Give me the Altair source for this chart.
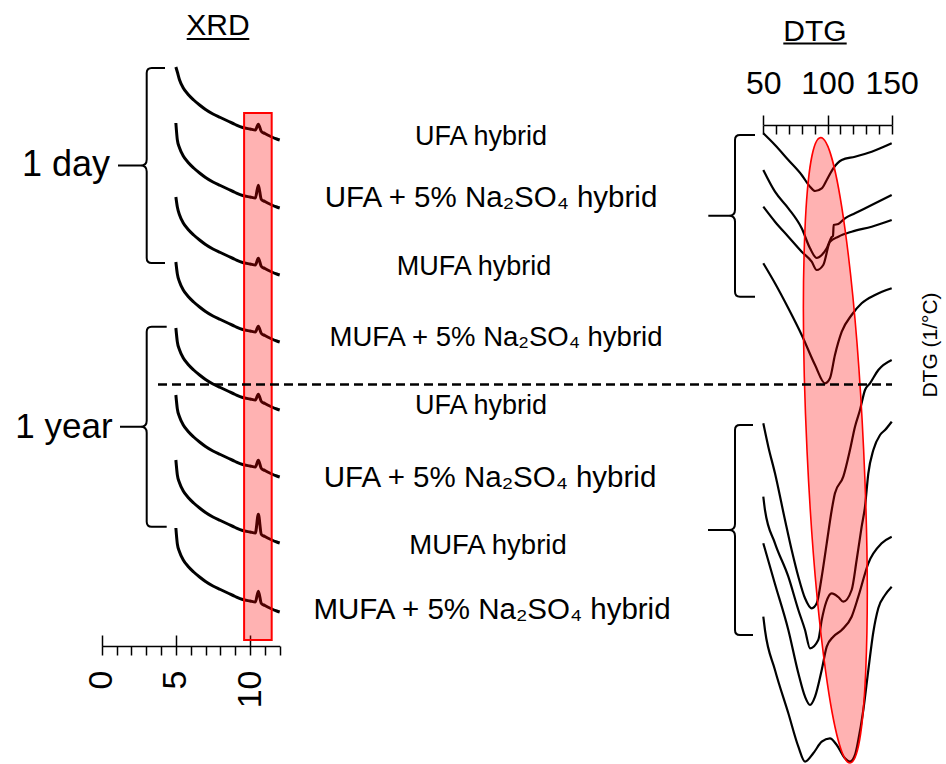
import altair as alt
import pandas as pd

# ---------------- data ----------------
SAMPLES = ["UFA hybrid", "UFA + 5% Na₂SO₄ hybrid", "MUFA hybrid", "MUFA + 5% Na₂SO₄ hybrid"] * 2
AGES = ["1 day", "1 year"]

# XRD (2θ in degrees, intensity in a.u., curves stacked with offsets)
XRD_2THETA = [5.0, 5.1, 5.25, 5.5, 5.8, 6.2, 6.6, 7.0, 7.5, 8.0, 8.5, 9.0, 9.5, 10.0,
              10.36, 10.56, 10.76, 11.0, 11.4, 11.8, 12.0]
XRD_BASE = [80, 68, 60, 52, 46, 40, 35, 30.5, 26, 22.5, 19, 15.5, 12.5, 11,
            10, 9.8, 8.6, 6.5, 3.5, 1, 0]
XRD_REFLECTION = 10.56
XRD_START = [73, 85, 78, 80, 82, 82, 83, 84]
XRD_PEAK = [6, 13, 7, 6, 6, 7, 19, 11]
XRD_OFFSET = [624, 556, 489, 422, 354, 287, 221, 152]

# DTG (temperature in °C, DTG in a.u. incl. stacking offset)
DTG_T_1 = [50.0, 59.1, 69.5, 79.9, 86.4, 90.3, 95.5, 99.4, 104.5, 111.1, 121.4, 134.4, 150.0]
DTG_V_1 = [630.7, 619, 604, 589, 577.3, 573, 575.7, 584, 595.7, 604, 607.3, 612.3, 620.7]
DTG_T_2 = [50.0, 59.1, 69.5, 79.9, 86.4, 91.6, 95.5, 99.4, 103.3, 104.3, 104.8, 108.4, 113.6, 121.4, 134.4, 150.0]
DTG_V_2 = [594, 572.3, 555.7, 535.7, 515.7, 506, 509, 515.7, 527, 528, 539, 540, 545.7, 550.7, 559, 569]
DTG_T_3 = [50.0, 59.1, 69.5, 79.9, 87.7, 91.6, 96.7, 101.9, 108.4, 118.8, 134.4, 150.0]
DTG_V_3 = [557.3, 542.3, 527.3, 512.3, 502.3, 494, 499, 522.3, 527.3, 532.3, 537.3, 544]
DTG_T_4 = [50.0, 59.1, 69.5, 79.9, 90.3, 98.1, 101.9, 105.8, 111.1, 118.8, 126.6, 137.0, 150.0]
DTG_V_4 = [500.7, 480.7, 455.7, 429, 399, 380.7, 385.7, 409, 432.3, 449, 460.7, 469, 475.7]
DTG_T_5 = [50.0, 53.9, 59.1, 66.9, 72.1, 77.3, 82.5, 87.7, 91.6, 95.5, 99.4, 103.3, 105.8,
           112.3, 117.5, 121.4, 125.3, 129.2, 133.1, 139.6, 150.0]
DTG_V_5 = [340.7, 317.3, 290.7, 244, 214, 187.3, 165.7, 155.7, 160.7, 187.3, 220.7, 254, 270.7,
           287.3, 314, 337.3, 354, 374, 380.7, 394, 404]
DTG_T_6 = [50.0, 51.3, 59.1, 69.5, 77.3, 82.5, 86.4, 92.8, 95.5, 99.0, 103.3, 108.4, 112.3,
           118.8, 122.7, 126.6, 129.2, 131.8, 135.7, 140.9, 144.8, 150.0]
DTG_V_6 = [267.3, 254, 220.7, 187.3, 154, 134, 115.7, 124, 144, 162, 170.7, 167, 162.3,
           174, 204, 237.3, 257.3, 290.7, 314, 329, 334, 342.3]
DTG_T_7 = [50.0, 59.1, 69.5, 77.3, 82.5, 86.4, 90.3, 95.5, 99.4, 104.5, 111.1, 118.8, 124.0,
           131.8, 142.2, 150.0]
DTG_V_7 = [220.7, 180, 134, 90.7, 67.3, 59, 67.3, 94, 117.3, 127.3, 134, 147.3, 167.3,
           200.7, 220.7, 227.3]
DTG_T_8 = [50.0, 51.3, 59.1, 69.5, 77.3, 82.5, 88.9, 95.5, 101.9, 107.2, 113.6, 117.5, 121.4,
           124.0, 127.9, 131.8, 135.7, 139.6, 144.8, 150.0]
DTG_V_8 = [147.3, 134, 94, 50.7, 17.3, 2.3, 10.7, 22.3, 25.7, 19, 5.7, 2.3, 9,
           24, 54, 94, 132, 156, 169, 177.3]

# highlighted regions
XRD_BAND = [9.6, 11.46]          # 2θ range of the reflection
XRD_BAND_V = [124, 651]
DTG_HIGHLIGHT_T = 106.1          # centre of the highlighted DTG region
DTG_HIGHLIGHT_V = 313.7
DIVIDER_V = 379.5                 # 1 day / 1 year divider

# ---------------- layout (figure units) ----------------
LABEL_X = [481, 491, 474, 496, 481, 490, 488, 492]
LABEL_V = [627, 566, 497, 426, 358, 286, 218, 154]
LABEL_FS = [27, 29.5, 27, 27.5, 27, 29.5, 27.5, 29.5]
AGE_X = [66, 64]
AGE_V = [599, 337]
AGE_FS = [36, 35]
BRACE_X = [146.7, 146.7, 735, 735]
BRACE_V = [598.5, 337.3, 548.2, 234]
BRACE_H = [195, 200, 161.7, 210]
BRACE_HOOK = [18.3, 20, 20, 18]
BRACE_TAIL = [28.7, 26.7, 26.7, 27]

FONT = "Liberation Sans"

W, H = 946, 764
y_scale = alt.Scale(domain=[0, H], nice=False, zero=False)
xrd_scale = alt.Scale(domain=[0, 12], range=[101.7, 279.7], nice=False, zero=False)
dtg_scale = alt.Scale(domain=[50, 150], range=[763.3, 891.7], nice=False, zero=False)
fig_scale = alt.Scale(domain=[0, W], range=[0, W], nice=False, zero=False)

# ---------------- tables ----------------
xrd_rows = []
for i in range(8):
    for j, t in enumerate(XRD_2THETA):
        h = XRD_START[i] if j == 0 else XRD_BASE[j]
        if t == XRD_REFLECTION:
            h += XRD_PEAK[i]
        xrd_rows.append({"sample": i, "tt": t, "v": XRD_OFFSET[i] + h})
xrd_df = pd.DataFrame(xrd_rows)

dtg_T = [DTG_T_1, DTG_T_2, DTG_T_3, DTG_T_4, DTG_T_5, DTG_T_6, DTG_T_7, DTG_T_8]
dtg_V = [DTG_V_1, DTG_V_2, DTG_V_3, DTG_V_4, DTG_V_5, DTG_V_6, DTG_V_7, DTG_V_8]
dtg_rows = []
for i in range(8):
    for t, v in zip(dtg_T[i], dtg_V[i]):
        dtg_rows.append({"sample": i, "T": t, "v": v})
dtg_df = pd.DataFrame(dtg_rows)


def brace_path(Hpx, hook, tail, tip=6.0, r=5.0):
    s = Hpx / 2.0
    h, L, t, c = hook / s, tail / s, tip / s, r / s
    f = lambda x: f"{x:.4f}"
    return (f"M {f(h)} -1 L {f(c)} -1 Q 0 -1 0 {f(-1 + c)} L 0 {f(-t)} "
            f"Q 0 0 {f(-t)} 0 Q 0 0 0 {f(t)} L 0 {f(1 - c)} Q 0 1 {f(c)} 1 L {f(h)} 1 "
            f"M {f(-t)} 0 L {f(-L)} 0")


brace_df = pd.DataFrame({
    "bx": BRACE_X, "v": BRACE_V,
    "path": [brace_path(BRACE_H[k], BRACE_HOOK[k], BRACE_TAIL[k]) for k in range(4)],
    "size": [hh * hh for hh in BRACE_H],
})

# ellipse symbol (semi-minor / semi-major = 0.0904), drawn with cubic Béziers
e, k = 0.0904, 0.5523
ELLIPSE = (f"M 0 -1 C {k*e:.4f} -1 {e:.4f} {-k:.4f} {e:.4f} 0 "
           f"C {e:.4f} {k:.4f} {k*e:.4f} 1 0 1 "
           f"C {-k*e:.4f} 1 {-e:.4f} {k:.4f} {-e:.4f} 0 "
           f"C {-e:.4f} {-k:.4f} {-k*e:.4f} -1 0 -1 Z")

Y = lambda: alt.Y("v:Q", scale=y_scale, axis=None)

axis_style = dict(grid=False, domainColor="black", tickColor="black", labelColor="black",
                  domainWidth=1.5, tickWidth=1.5, labelFont=FONT, labelFlush=False,
                  labelOverlap=False)

# XRD curves (main bottom axis)
xrd_lines = alt.Chart(xrd_df).mark_line(color="black", strokeWidth=3,
                                        interpolate="monotone").encode(
    x=alt.X("tt:Q", scale=xrd_scale,
            axis=alt.Axis(orient="bottom", offset=-118, values=list(range(13)), tickSize=9,
                          labelExpr="datum.value % 5 == 0 ? datum.label : ''",
                          labelAngle=270, labelFontSize=34, labelPadding=15, title=None,
                          **axis_style)),
    y=Y(), detail="sample:N")

# XRD highlighted reflection band (carries upward major ticks)
xrd_band = alt.Chart(pd.DataFrame({"t0": [XRD_BAND[0]], "t1": [XRD_BAND[1]],
                                   "v": [XRD_BAND_V[0]], "v2": [XRD_BAND_V[1]]})).mark_rect(
    fill="#ff0000", fillOpacity=0.3, stroke="#ff0000", strokeWidth=2).encode(
    x=alt.X("t0:Q", scale=xrd_scale,
            axis=alt.Axis(orient="top", offset=-646, values=[0, 5, 10], tickSize=11,
                          labels=False, domain=False, title=None, **axis_style)),
    x2="t1:Q", y=Y(), y2="v2:Q")

# DTG curves (top axis with labels)
dtg_lines = alt.Chart(dtg_df).mark_line(color="black", strokeWidth=2.2,
                                        interpolate="monotone").encode(
    x=alt.X("T:Q", scale=dtg_scale,
            axis=alt.Axis(orient="top", offset=-125, values=[50, 100, 150], tickSize=10,
                          labelFontSize=32, labelPadding=21.7, labelBaseline="alphabetic",
                          title=None, **axis_style)),
    y=Y(), detail="sample:N")

# DTG highlighted region (carries downward minor ticks)
dtg_ell = alt.Chart(pd.DataFrame({"T": [DTG_HIGHLIGHT_T], "v": [DTG_HIGHLIGHT_V]})).mark_point(
    shape=ELLIPSE, size=626 * 626, angle=357.3, filled=True, fill="#ff0000", fillOpacity=0.3,
    stroke="#ff0000", strokeWidth=1.6, opacity=1).encode(
    x=alt.X("T:Q", scale=dtg_scale,
            axis=alt.Axis(orient="bottom", offset=-639, values=list(range(50, 151, 10)),
                          tickSize=9, labels=False, domain=False, title=None, **axis_style)),
    y=Y())

braces = alt.Chart(brace_df).mark_point(filled=False, color="black", strokeWidth=2,
                                        opacity=1).encode(
    x=alt.X("bx:Q", scale=fig_scale, axis=None), y=Y(),
    shape=alt.Shape("path:N", scale=None, legend=None),
    size=alt.Size("size:Q", scale=None, legend=None))

labels = alt.Chart(pd.DataFrame({"label": SAMPLES, "lx": LABEL_X, "v": LABEL_V,
                                 "fs": LABEL_FS})).mark_text(
    font=FONT, color="black", align="center", baseline="middle").encode(
    x=alt.X("lx:Q", scale=fig_scale, axis=None), y=Y(), text="label:N",
    size=alt.Size("fs:Q", scale=None, legend=None))

ages = alt.Chart(pd.DataFrame({"label": AGES, "lx": AGE_X, "v": AGE_V,
                               "fs": AGE_FS})).mark_text(
    font=FONT, color="black", align="center", baseline="middle").encode(
    x=alt.X("lx:Q", scale=fig_scale, axis=None), y=Y(), text="label:N",
    size=alt.Size("fs:Q", scale=None, legend=None))

titles = alt.Chart(pd.DataFrame({"label": ["XRD", "DTG"], "lx": [218, 815],
                                 "v": [729, 723.5]})).mark_text(
    font=FONT, color="black", align="center", baseline="alphabetic", fontSize=30).encode(
    x=alt.X("lx:Q", scale=fig_scale, axis=None), y=Y(), text="label:N")

underlines = alt.Chart(pd.DataFrame({"x0": [186.7, 783.3], "x1": [249.3, 846.7],
                                     "v": [725, 720.5]})).mark_rule(
    color="black", strokeWidth=2).encode(
    x=alt.X("x0:Q", scale=fig_scale, axis=None), x2="x1:Q", y=Y())

ylabel = alt.Chart(pd.DataFrame({"label": ["DTG (1/°C)"], "lx": [930.7],
                                 "v": [419]})).mark_text(
    font=FONT, color="black", align="center", baseline="middle", fontSize=21,
    angle=270).encode(
    x=alt.X("lx:Q", scale=fig_scale, axis=None), y=Y(), text="label:N")

divider = alt.Chart(pd.DataFrame({"x0": [158], "x1": [892], "v": [DIVIDER_V]})).mark_rule(
    color="black", strokeWidth=2.6, strokeDash=[9, 5]).encode(
    x=alt.X("x0:Q", scale=fig_scale, axis=None), x2="x1:Q", y=Y())

chart = alt.layer(
    xrd_lines, xrd_band, dtg_lines, dtg_ell, braces, labels, ages, titles, underlines,
    ylabel, divider
).resolve_scale(x="independent").properties(
    width=W, height=H, autosize=alt.AutoSizeParams(type="none"), padding=0,
    background="white"
).configure_view(stroke=None)

chart.save("out.html", embed_options={"renderer": "svg", "actions": False})
